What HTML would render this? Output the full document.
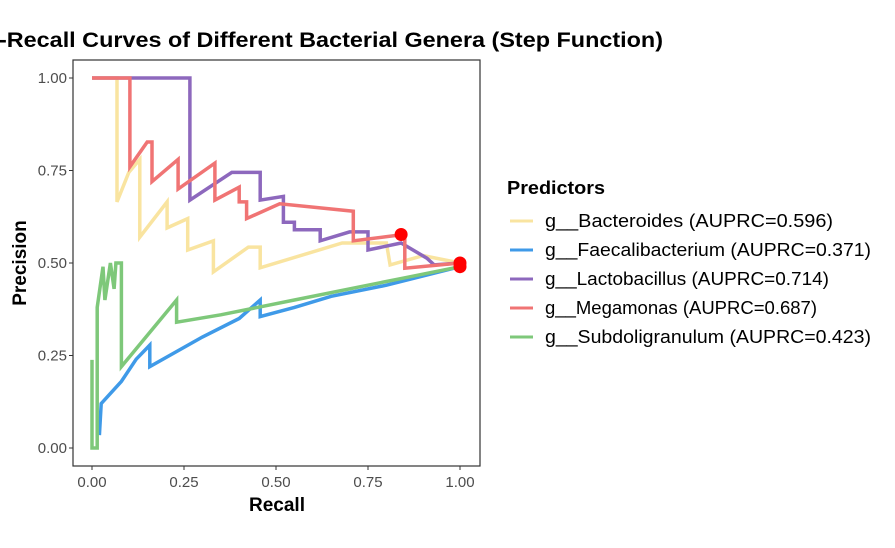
<!DOCTYPE html>
<html><head><meta charset="utf-8"><style>
body{margin:0;background:#fff;width:895px;height:543px;overflow:hidden;font-family:"Liberation Sans",sans-serif}
</style></head><body>
<svg width="895" height="543" xmlns="http://www.w3.org/2000/svg" id="chart">
<text x="-1" y="47" font-size="21" font-weight="bold" fill="#000" textLength="664" lengthAdjust="spacingAndGlyphs">-Recall Curves of Different Bacterial Genera (Step Function)</text>
<rect x="73" y="60" width="407" height="406" fill="none" stroke="#333" stroke-width="1.2"/>
<g id="series"></g>
<g id="axes"></g>
<text x="277" y="511" font-size="19" font-weight="bold" text-anchor="middle">Recall</text>
<text transform="translate(26,263) rotate(-90)" font-size="19" font-weight="bold" text-anchor="middle">Precision</text>
<text x="507" y="194" font-size="18" font-weight="bold" textLength="98" lengthAdjust="spacingAndGlyphs">Predictors</text>
<g id="legend"></g>
</svg>
<script>
const names=["g__Bacteroides (AUPRC=0.596)","g__Faecalibacterium (AUPRC=0.371)","g__Lactobacillus (AUPRC=0.714)","g__Megamonas (AUPRC=0.687)","g__Subdoligranulum (AUPRC=0.423)"];
const colors=["#f9e4a0","#3f9ae8","#8d68bd","#f07474","#7ec87a"];
const xTicks=[0,0.25,0.5,0.75,1];
const xTickLabels=["0.00","0.25","0.50","0.75","1.00"];
const yTicks=[0,0.25,0.5,0.75,1];
const yTickLabels=["0.00","0.25","0.50","0.75","1.00"];
const bacteroides=[[0,1],[0.068,1],[0.068,0.665],[0.10,0.745],[0.13,0.78],[0.13,0.57],[0.204,0.665],[0.204,0.595],[0.26,0.62],[0.26,0.535],[0.33,0.56],[0.33,0.476],[0.425,0.543],[0.457,0.543],[0.457,0.487],[0.68,0.554],[0.80,0.554],[0.81,0.495],[0.9,0.52],[1,0.5]];
const faecali=[[0.02,0.035],[0.025,0.12],[0.08,0.18],[0.12,0.24],[0.157,0.278],[0.157,0.22],[0.30,0.30],[0.40,0.35],[0.457,0.40],[0.457,0.355],[0.55,0.38],[0.65,0.41],[0.80,0.44],[1,0.49]];
const lacto=[[0,1],[0.266,1],[0.266,0.67],[0.38,0.745],[0.457,0.745],[0.457,0.67],[0.52,0.68],[0.52,0.61],[0.55,0.61],[0.55,0.59],[0.62,0.59],[0.62,0.56],[0.70,0.584],[0.75,0.584],[0.75,0.535],[0.84,0.554],[0.91,0.513],[0.93,0.495],[1,0.5]];
const megamonas=[[0,1],[0.103,1],[0.103,0.76],[0.15,0.827],[0.163,0.827],[0.163,0.72],[0.234,0.78],[0.234,0.70],[0.334,0.77],[0.334,0.67],[0.40,0.705],[0.40,0.665],[0.42,0.665],[0.42,0.62],[0.51,0.66],[0.71,0.64],[0.71,0.56],[0.83,0.575],[0.85,0.575],[0.85,0.486],[1,0.50]];
const subdoli=[[0,0.238],[0,0],[0.014,0],[0.014,0.38],[0.03,0.49],[0.035,0.40],[0.05,0.5],[0.06,0.43],[0.065,0.5],[0.08,0.5],[0.08,0.22],[0.23,0.40],[0.23,0.34],[0.35,0.36],[0.55,0.40],[0.75,0.44],[0.85,0.46],[1,0.49]];
const seriesData=[bacteroides,faecali,lacto,megamonas,subdoli];
const markers=[[0.84,0.577],[1,0.5],[1,0.49]];
const NS="http://www.w3.org/2000/svg";
const X=r=>92+r*368, Y=p=>448-p*370;
const sg=document.getElementById('series'), ax=document.getElementById('axes'), lg=document.getElementById('legend');
const order=[0,1,4,2,3];
order.forEach(i=>{
  const p=document.createElementNS(NS,'path');
  p.setAttribute('d',seriesData[i].map((d,k)=>(k?'L':'M')+X(d[0]).toFixed(1)+','+Y(d[1]).toFixed(1)).join(''));
  p.setAttribute('fill','none');p.setAttribute('stroke',colors[i]);p.setAttribute('stroke-width','3.5');
  
  
  sg.appendChild(p);
});
markers.forEach((m,i)=>{
  const c=document.createElementNS(NS,'circle');
  c.setAttribute('cx',X(m[0]));c.setAttribute('cy',Y(m[1]));c.setAttribute('r','6.5');c.setAttribute('fill','#ff0000');
  
  
  sg.appendChild(c);
});
xTicks.forEach((t,i)=>{
  const l=document.createElementNS(NS,'line');
  l.setAttribute('x1',X(t));l.setAttribute('x2',X(t));l.setAttribute('y1',466);l.setAttribute('y2',470);l.setAttribute('stroke','#333');
  
  
  ax.appendChild(l);
  const s=document.createElementNS(NS,'text');
  s.setAttribute('x',X(t));s.setAttribute('y',487);s.setAttribute('text-anchor','middle');s.setAttribute('font-size','15');s.setAttribute('fill','#4d4d4d');
  s.textContent=xTickLabels[i];
  
  
  ax.appendChild(s);
});
yTicks.forEach((t,i)=>{
  const l=document.createElementNS(NS,'line');
  l.setAttribute('x1',69);l.setAttribute('x2',73);l.setAttribute('y1',Y(t));l.setAttribute('y2',Y(t));l.setAttribute('stroke','#333');
  
  
  ax.appendChild(l);
  const s=document.createElementNS(NS,'text');
  s.setAttribute('x',67);s.setAttribute('y',Y(t)+5);s.setAttribute('text-anchor','end');s.setAttribute('font-size','15');s.setAttribute('fill','#4d4d4d');
  s.textContent=yTickLabels[i];
  
  
  ax.appendChild(s);
});
const ly=[221,250,279,308,337];
const lw=[288,326,284,272,326];
names.forEach((n,i)=>{
  const l=document.createElementNS(NS,'line');
  l.setAttribute('x1',510);l.setAttribute('x2',533);l.setAttribute('y1',ly[i]);l.setAttribute('y2',ly[i]);l.setAttribute('stroke',colors[i]);l.setAttribute('stroke-width','3');
  
  
  lg.appendChild(l);
  const s=document.createElementNS(NS,'text');
  s.setAttribute('x',545);s.setAttribute('y',ly[i]+6);s.setAttribute('font-size','18');
  s.setAttribute('textLength',lw[i]);s.setAttribute('lengthAdjust','spacingAndGlyphs');
  s.textContent=n;
  
  
  lg.appendChild(s);
});
</script>
</body></html>
